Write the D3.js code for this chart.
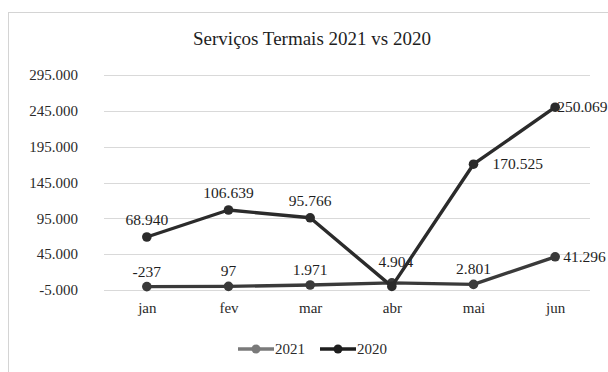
<!DOCTYPE html>
<meta charset="utf-8">
<style>
body { margin: 0; background: #fff; }
svg { font-family: "Liberation Serif", "DejaVu Serif", serif; }
.grid line { stroke: #d9d9d9; stroke-width: 1px; }
.axis text { fill: #2a2a2a; font-size: 15px; }
.lbl { fill: #1e1e1e; font-size: 15.5px; }
</style>
<body>
  <svg></svg>
</body>
<script src="https://cdn.jsdelivr.net/npm/d3@7"></script>
<script>

var months = ["jan", "fev", "mar", "abr", "mai", "jun"];
var yTicks = [-5000, 45000, 95000, 145000, 195000, 245000, 295000];
var values2021 = [-237, 97, 1971, 4904, 2801, 41296];
var values2020 = [68940, 106639, 95766, 0, 170525, 250069];
// which points carry a data label (abr of 2020 has none in the picture)
var show2021 = [true, true, true, true, true, true];
var show2020 = [true, true, true, false, true, true];
var seriesNames = ["2021", "2020"];

var width = 608, height = 372;
var svg = d3.select("svg").attr("width", width).attr("height", height);

var pt = d3.formatLocale({ decimal: ",", thousands: ".", grouping: [3], currency: ["", "€"], minus: "-" });
var fmt = pt.format(",d");

// chart frame
svg.append("rect")
    .attr("x", 8.5).attr("y", 12.5)
    .attr("width", 610).attr("height", 370)
    .attr("fill", "none").attr("stroke", "#d4d4d4");

svg.append("text")
    .attr("x", 312).attr("y", 45)
    .attr("text-anchor", "middle")
    .style("font-size", "19px").style("fill", "#1e1e1e")
    .text("Serviços Termais 2021  vs 2020");

var x = d3.scalePoint().domain(months).range([106, 596]).padding(0.5);
var y = d3.scaleLinear().domain([-5000, 295000]).range([290, 75]);

svg.append("g").attr("class", "grid")
  .selectAll("line")
  .data(yTicks)
  .enter().append("line")
    .attr("x1", 104).attr("x2", 590)
    .attr("y1", function(d) { return Math.round(y(d)) + 0.5; })
    .attr("y2", function(d) { return Math.round(y(d)) + 0.5; });

var yAxis = d3.axisLeft(y).tickValues(yTicks).tickSize(0).tickPadding(0).tickFormat(fmt);
svg.append("g").attr("class", "axis")
    .attr("transform", "translate(78,0)")
    .call(yAxis)
    .attr("font-family", null).attr("font-size", null)
    .call(function(g) { g.select(".domain").remove(); });

var xAxis = d3.axisBottom(x).tickSize(0).tickPadding(0);
svg.append("g").attr("class", "axis")
    .attr("transform", "translate(0,302)")
    .call(xAxis)
    .attr("font-family", null).attr("font-size", null)
    .call(function(g) { g.select(".domain").remove(); });

var line = d3.line()
    .x(function(d, i) { return x(months[i]); })
    .y(function(d) { return y(d); });

function drawSeries(vals, show, color, labelPos) {
  var g = svg.append("g");
  g.append("path")
      .datum(vals)
      .attr("d", line)
      .attr("fill", "none")
      .attr("stroke", color)
      .attr("stroke-width", 3.4)
      .attr("stroke-linejoin", "round");
  g.selectAll("circle")
      .data(vals)
      .enter().append("circle")
      .attr("cx", function(d, i) { return x(months[i]); })
      .attr("cy", function(d) { return y(d); })
      .attr("r", 4.8)
      .attr("fill", color);
  vals.forEach(function(d, i) {
    if (!show[i]) return;
    g.append("text")
        .attr("class", "lbl")
        .attr("x", x(months[i]) + labelPos[i][0])
        .attr("y", y(d) + labelPos[i][1])
        .attr("text-anchor", labelPos[i][2])
        .text(fmt(d));
  });
}

// label offsets: [dx, dy, anchor]
var pos2020 = [[0, -12, "middle"], [0, -12, "middle"], [0, -12, "middle"], [0, -12, "middle"], [19, 5, "start"], [2, 5, "start"]];
var pos2021 = [[0, -10, "middle"], [0, -10, "middle"], [0, -10, "middle"], [4, -16, "middle"], [0, -10, "middle"], [8, 5, "start"]];

drawSeries(values2021, show2021, "#3a3a3a", pos2021);
drawSeries(values2020, show2020, "#2b2b2b", pos2020);

// legend
var legend = svg.append("g").attr("transform", "translate(238,349)");
var legColors = ["#7a7a7a", "#1e1e1e"];
seriesNames.forEach(function(name, i) {
  var gx = i * 82;
  legend.append("line")
      .attr("x1", gx).attr("x2", gx + 36)
      .attr("y1", 0).attr("y2", 0)
      .attr("stroke", legColors[i]).attr("stroke-width", 3.4);
  legend.append("circle")
      .attr("cx", gx + 18).attr("cy", 0).attr("r", 4.5)
      .attr("fill", legColors[i]);
  legend.append("text")
      .attr("x", gx + 37).attr("y", 5)
      .style("font-size", "15px").style("fill", "#2a2a2a")
      .text(name);
});

</script>
